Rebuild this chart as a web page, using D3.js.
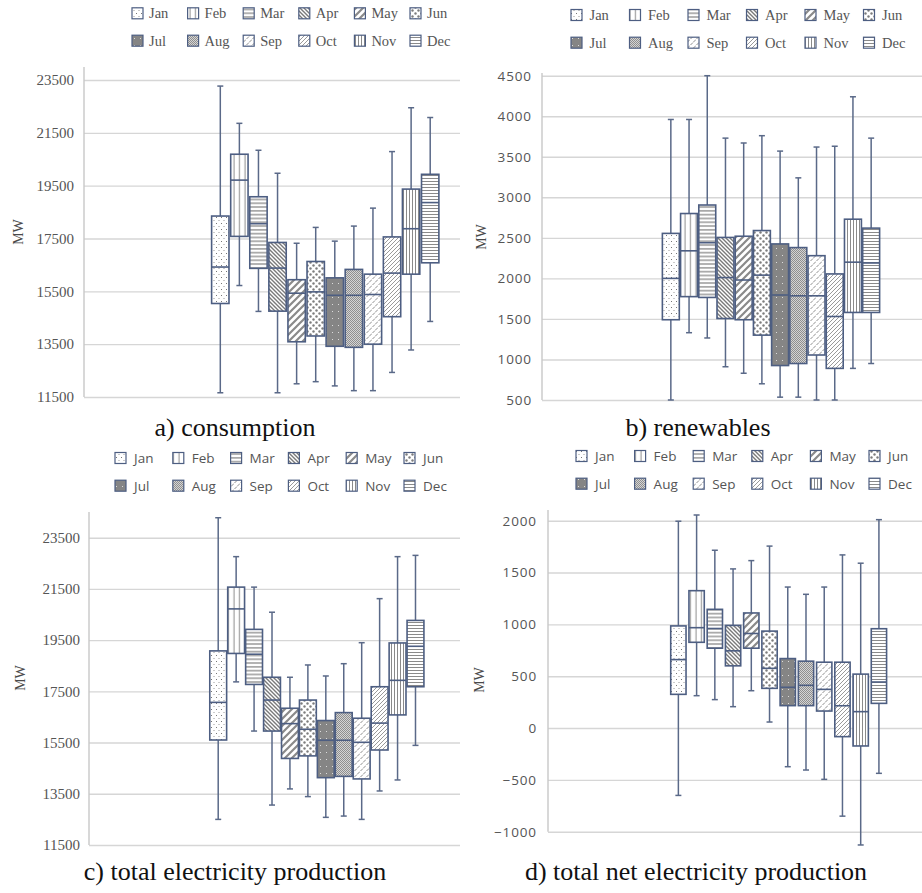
<!DOCTYPE html>
<html>
<head>
<meta charset="utf-8">
<script src="https://cdn.jsdelivr.net/npm/d3@7"></script>
<style>
  html, body { margin: 0; padding: 0; background: #fff; }
  svg { display: block; }
  .serif { font-family: "Liberation Serif", "Times New Roman", Tinos, "DejaVu Serif", serif; }
  .sans { font-family: "Open Sans", "Noto Sans", sans-serif; }
</style>
</head>
<body>
<svg id="chart" width="922" height="893"></svg>
<script>
// ---- Data: monthly box-plot statistics (MW) ----
const months = ["Jan", "Feb", "Mar", "Apr", "May", "Jun", "Jul", "Aug", "Sep", "Oct", "Nov", "Dec"];

// a) consumption
const consMax = [23270, 21860, 20840, 19970, 17320, 17920, 17400, 17970, 18650, 20790, 22450, 22080];
const consQ3  = [18350, 20690, 19080, 17350, 15940, 16630, 16010, 16330, 16150, 17560, 19370, 19930];
const consMed = [16420, 19710, 18060, 16380, 15430, 15480, 15350, 15350, 15380, 16190, 17870, 18860];
const consQ1  = [15040, 17580, 16370, 14750, 13590, 13810, 13420, 13380, 13500, 14540, 16150, 16580];
const consMin = [11660, 15720, 14740, 11660, 12000, 12080, 11920, 11740, 11740, 12430, 13280, 14360];
const consTicks = [11500, 13500, 15500, 17500, 19500, 21500, 23500];

// b) renewables
const renMax = [3960, 3960, 4500, 3730, 3670, 3760, 3570, 3240, 3620, 3630, 4240, 3730];
const renQ3  = [2555, 2800, 2905, 2505, 2520, 2590, 2425, 2380, 2280, 2055, 2730, 2620];
const renMed = [2000, 2340, 2440, 2010, 1980, 2040, 1795, 1785, 1785, 1530, 2200, 2190];
const renQ1  = [1490, 1775, 1765, 1505, 1490, 1300, 925, 950, 1055, 890, 1580, 1580];
const renMin = [500, 1330, 1265, 910, 830, 700, 535, 535, 500, 500, 890, 950];
const renTicks = [500, 1000, 1500, 2000, 2500, 3000, 3500, 4000, 4500];

// c) total electricity production
const prodMax = [24280, 22760, 21570, 20590, 18050, 18530, 18100, 18580, 19400, 21120, 22760, 22810];
const prodQ3  = [19080, 21570, 19920, 18050, 16840, 17160, 16360, 16670, 16450, 17680, 19390, 20270];
const prodMed = [17070, 20720, 18950, 17160, 16240, 16020, 15590, 15590, 15510, 16260, 17930, 19260];
const prodQ1  = [15600, 18980, 17770, 15950, 14880, 14980, 14130, 14180, 14080, 15210, 16580, 17680];
const prodMin = [12500, 17870, 15950, 13060, 13690, 13390, 12580, 12630, 12500, 13610, 14040, 15390];
const prodTicks = [11500, 13500, 15500, 17500, 19500, 21500, 23500];

// d) total net electricity production
const netMax = [1995, 2055, 1715, 1535, 1615, 1755, 1360, 1290, 1360, 1670, 1590, 2010];
const netQ3  = [985, 1325, 1145, 990, 1110, 935, 670, 645, 635, 635, 520, 958];
const netMed = [660, 968, 960, 745, 912, 576, 393, 412, 373, 215, 158, 444];
const netQ1  = [325, 827, 770, 600, 770, 383, 216, 216, 164, -83, -173, 238];
const netMin = [-650, 312, 274, 206, 360, 58, -373, -405, -495, -850, -1128, -437];
const netTicks = [-1000, -500, 0, 500, 1000, 1500, 2000];

// ---- Styling ----
const BOX_STROKE = "#4d5e82";
const WHISKER = "#5a6988";
const PAT = "#8a8a8a";

const svg = d3.select("#chart");
const defs = svg.append("defs");

// Fill patterns, one per month
function pattern(id, w, h, draw, bg) {
  const p = defs.append("pattern")
    .attr("id", id).attr("patternUnits", "userSpaceOnUse")
    .attr("width", w).attr("height", h);
  p.append("rect").attr("width", w).attr("height", h).attr("fill", bg || "#fff");
  draw(p);
}
// Jan: sparse dots
pattern("p-Jan", 5, 6, p => {
  p.append("rect").attr("x", 1).attr("y", 1).attr("width", 1).attr("height", 1).attr("fill", "#777");
  p.append("rect").attr("x", 3.5).attr("y", 4).attr("width", 1).attr("height", 1).attr("fill", "#999");
});
// Feb: wide vertical lines
pattern("p-Feb", 5.5, 4, p => {
  p.append("rect").attr("x", 2.5).attr("y", 0).attr("width", 1).attr("height", 4).attr("fill", PAT);
});
// Mar: horizontal lines
pattern("p-Mar", 4, 3.8, p => {
  p.append("rect").attr("x", 0).attr("y", 1.2).attr("width", 4).attr("height", 1.3).attr("fill", PAT);
});
// Apr: dense downward diagonals
pattern("p-Apr", 4, 4, p => {
  p.append("path").attr("d", "M-1,-1 L5,5 M-1,3 L1,5 M3,-1 L5,1")
    .attr("stroke", "#7a7a7a").attr("stroke-width", 1.4);
});
// May: wide upward diagonals
pattern("p-May", 7, 7, p => {
  p.append("path").attr("d", "M-1,8 L8,-1 M-1,1 L1,-1 M6,8 L8,6")
    .attr("stroke", "#8a8a8a").attr("stroke-width", 2.2);
});
// Jun: large confetti dots
pattern("p-Jun", 6, 6, p => {
  p.append("circle").attr("cx", 1.5).attr("cy", 1.5).attr("r", 1.2).attr("fill", "#7d7d7d");
  p.append("circle").attr("cx", 4.5).attr("cy", 4.5).attr("r", 1.2).attr("fill", "#7d7d7d");
});
// Jul: dark gray with light dots
pattern("p-Jul", 6, 7, p => {
  p.append("rect").attr("x", 2).attr("y", 3).attr("width", 1).attr("height", 1).attr("fill", "#dcdcdc");
}, "#858585");
// Aug: fine checker
pattern("p-Aug", 2, 2, p => {
  p.append("rect").attr("x", 0).attr("y", 0).attr("width", 1).attr("height", 1).attr("fill", "#8f8f8f");
  p.append("rect").attr("x", 1).attr("y", 1).attr("width", 1).attr("height", 1).attr("fill", "#8f8f8f");
}, "#d4d4d4");
// Sep: short dashed diagonals
pattern("p-Sep", 6, 6, p => {
  p.append("path").attr("d", "M0.5,3 L3,0.5 M3.5,6 L6,3.5")
    .attr("stroke", "#8f8f8f").attr("stroke-width", 1);
});
// Oct: thin upward diagonals
pattern("p-Oct", 4, 4, p => {
  p.append("path").attr("d", "M-1,5 L5,-1 M-1,1 L1,-1 M3,5 L5,3")
    .attr("stroke", "#9a9a9a").attr("stroke-width", 1);
});
// Nov: narrow vertical lines
pattern("p-Nov", 3, 4, p => {
  p.append("rect").attr("x", 1).attr("y", 0).attr("width", 1).attr("height", 4).attr("fill", PAT);
});
// Dec: narrow horizontal lines
pattern("p-Dec", 4, 3, p => {
  p.append("rect").attr("x", 0).attr("y", 1).attr("width", 4).attr("height", 1).attr("fill", PAT);
});

// ---- Panels ----
const panels = [
  { max: consMax, q3: consQ3, med: consMed, q1: consQ1, min: consMin, ticks: consTicks,
    axisX: 84, right: 460, top: 67, y0: 397, y1: 80, bx: [209.9, 440.6], pad: 0.09,
    tickCls: "serif", tickSize: 15, tickPad: 10, tickSpacing: 0,
    legend: { x: 132, dx: 55.6, rows: [13.3, 40.7], cls: "serif", size: 14.5, tx: 17 },
    mw: [18, 232], caption: "a) consumption", cx: 235, cy: 436 },
  { max: renMax, q3: renQ3, med: renMed, q1: renQ1, min: renMin, ticks: renTicks,
    axisX: 542, right: 922, top: 73, y0: 400, y1: 75.7, bx: [661.1, 880.9], pad: 0.07,
    tickCls: "sans", tickSize: 13.5, tickPad: 10, tickSpacing: 0.9,
    legend: { x: 571, dx: 58.5, rows: [15, 42.7], cls: "serif", size: 14.5, tx: 18.5 },
    mw: [481, 237], caption: "b) renewables", cx: 698, cy: 436 },
  { max: prodMax, q3: prodQ3, med: prodMed, q1: prodQ1, min: prodMin, ticks: prodTicks,
    axisX: 89, right: 460, top: 512, y0: 845, y1: 537.7, bx: [208.7, 425], pad: 0.06,
    tickCls: "serif", tickSize: 15, tickPad: 9, tickSpacing: 0,
    legend: { x: 115, dx: 57.8, rows: [458, 485.7], cls: "sans", size: 13.5, tx: 19 },
    mw: [20, 678], caption: "c) total electricity production", cx: 235, cy: 880 },
  { max: netMax, q3: netQ3, med: netMed, q1: netQ1, min: netMin, ticks: netTicks,
    axisX: 548, right: 922, top: 510, y0: 831.7, y1: 520.7, bx: [667.8, 889.5], pad: 0.16,
    tickCls: "sans", tickSize: 13.5, tickPad: 11, tickSpacing: 0.9,
    legend: { x: 576, dx: 58.6, rows: [456, 483.7], cls: "sans", size: 13.5, tx: 19 },
    mw: [479, 680], caption: "d) total net electricity production", cx: 696, cy: 880 }
];

panels.forEach(P => {
  const t = P.ticks;
  const y = d3.scaleLinear().domain([t[0], t[t.length - 1]]).range([P.y0, P.y1]);
  const x = d3.scaleBand().domain(months).range(P.bx).padding(P.pad);
  const g = svg.append("g");

  // Gridlines and tick labels
  const axis = d3.axisLeft(y).tickValues(t).tickFormat(d3.format("d"))
    .tickSizeInner(-(P.right - P.axisX)).tickSizeOuter(0).tickPadding(P.tickPad);
  const ag = g.append("g").attr("transform", `translate(${P.axisX},0)`).call(axis);
  ag.attr("font-family", null).attr("font-size", null);
  ag.select(".domain").remove();
  ag.selectAll(".tick line").attr("stroke", "#d6d6d6").attr("stroke-width", 1.4);
  ag.selectAll(".tick text")
    .attr("class", P.tickCls).style("font-size", P.tickSize + "px")
    .attr("letter-spacing", P.tickSpacing).attr("fill", "#555");

  // Vertical axis line
  g.append("line").attr("x1", P.axisX).attr("x2", P.axisX)
    .attr("y1", P.top).attr("y2", P.y0)
    .attr("stroke", "#c8c8c8").attr("stroke-width", 1.4);

  // Axis title
  g.append("text").attr("class", "serif")
    .attr("transform", `translate(${P.mw[0]},${P.mw[1]}) rotate(-90)`)
    .attr("text-anchor", "middle").attr("dominant-baseline", "central")
    .style("font-size", "14px").attr("fill", "#4a4a4a")
    .text("MW");

  // Boxes and whiskers
  const bw = x.bandwidth();
  const cap = 3;
  months.forEach((m, i) => {
    const cxm = x(m) + bw / 2;
    const bg = g.append("g");
    bg.append("line").attr("x1", cxm).attr("x2", cxm)
      .attr("y1", y(P.max[i])).attr("y2", y(P.q3[i]))
      .attr("stroke", WHISKER).attr("stroke-width", 1.5);
    bg.append("line").attr("x1", cxm).attr("x2", cxm)
      .attr("y1", y(P.q1[i])).attr("y2", y(P.min[i]))
      .attr("stroke", WHISKER).attr("stroke-width", 1.5);
    [P.max[i], P.min[i]].forEach(v => {
      bg.append("line").attr("x1", cxm - cap).attr("x2", cxm + cap)
        .attr("y1", y(v)).attr("y2", y(v))
        .attr("stroke", WHISKER).attr("stroke-width", 1.5);
    });
    bg.append("rect").attr("x", x(m)).attr("width", bw)
      .attr("y", y(P.q3[i])).attr("height", y(P.q1[i]) - y(P.q3[i]))
      .attr("fill", `url(#p-${m})`).attr("stroke", BOX_STROKE).attr("stroke-width", 1.6);
    bg.append("line").attr("x1", x(m)).attr("x2", x(m) + bw)
      .attr("y1", y(P.med[i])).attr("y2", y(P.med[i]))
      .attr("stroke", BOX_STROKE).attr("stroke-width", 1.6);
  });

  // Legend: two rows of six months
  const L = P.legend;
  months.forEach((m, i) => {
    const col = i % 6, row = Math.floor(i / 6);
    const lx = L.x + col * L.dx, ly = L.rows[row];
    g.append("rect").attr("x", lx).attr("y", ly - 5.5).attr("width", 11).attr("height", 11)
      .attr("fill", `url(#p-${m})`).attr("stroke", BOX_STROKE).attr("stroke-width", 1.2);
    g.append("text").attr("class", L.cls).attr("x", lx + L.tx).attr("y", ly)
      .attr("dominant-baseline", "central")
      .style("font-size", L.size + "px").attr("fill", "#555")
      .text(m);
  });

  // Caption
  g.append("text").attr("class", "serif").attr("x", P.cx).attr("y", P.cy)
    .attr("text-anchor", "middle")
    .style("font-size", "26px").attr("fill", "#111")
    .text(P.caption);
});
</script>
</body>
</html>
